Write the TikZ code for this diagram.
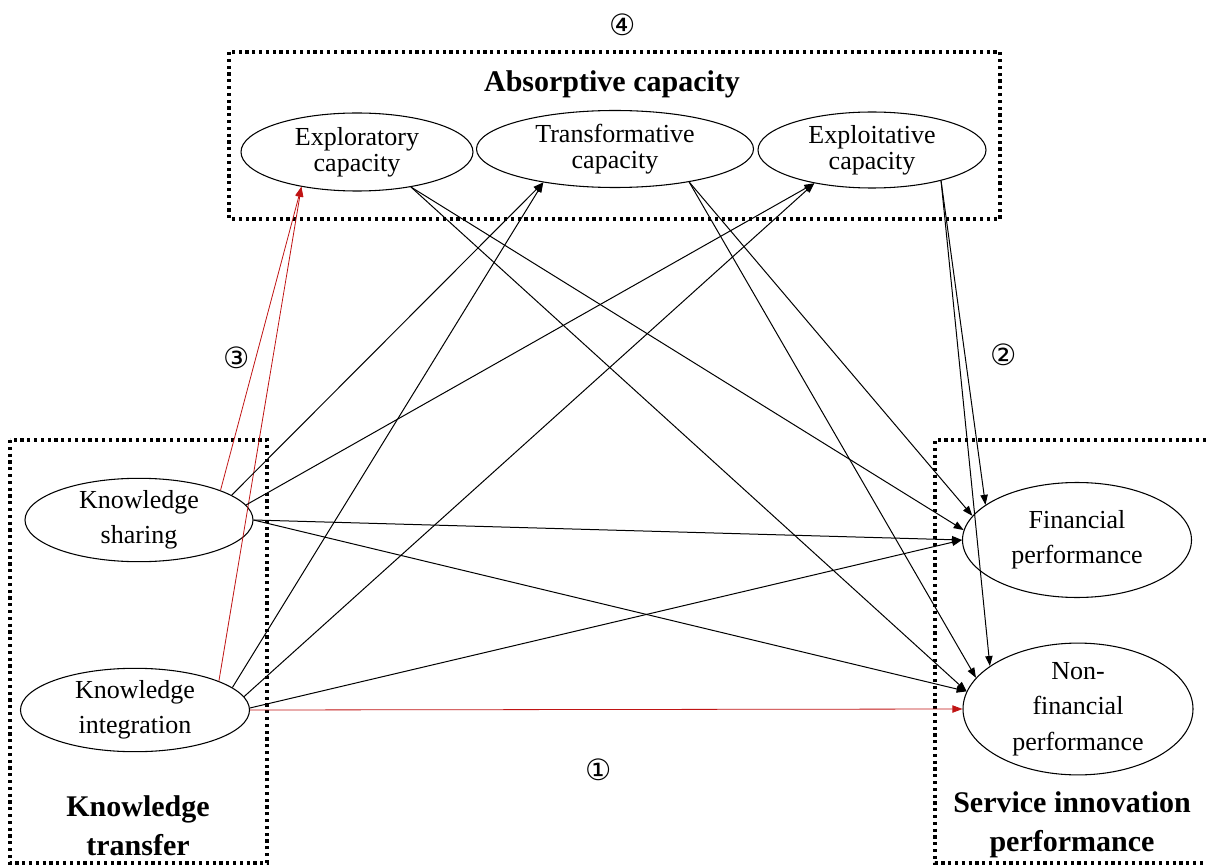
\documentclass[tikz,border=0pt]{standalone}
\usepackage{fontspec}
\setmainfont{Liberation Serif}
\newfontfamily\circfont{DejaVu Sans}
\usetikzlibrary{arrows.meta,shapes.geometric}
\definecolor{myred}{RGB}{192,20,20}
\begin{document}
\begin{tikzpicture}[x=0.75pt,y=-0.75pt,
  ell/.style={draw,ellipse,inner sep=0pt,line width=0.8pt,align=center},
  topell/.style={ell,font=\fontsize{19.5}{19.5}\selectfont},
  lowell/.style={ell,font=\fontsize{19.5}{26.5}\selectfont},
  title/.style={align=center,inner sep=0pt,font=\bfseries\fontsize{22.5}{29}\selectfont},
  circnum/.style={inner sep=0pt,font=\circfont\fontsize{22}{22}\selectfont},
  grp/.style={line width=2.4pt,dash pattern=on 2.4pt off 2.7pt},
  arr/.style={-{Triangle[length=7.5pt,width=5.5pt]},line width=0.75pt},
  redarr/.style={arr,draw=myred,line width=0.6pt}]
\useasboundingbox (0,0) rectangle (1206,866);

% group boxes
\draw[grp] (229,52) rectangle (1000,219);
\draw[grp] (10,440) rectangle (267,863);
\draw[grp] (1206,440) -- (935,440) -- (935,863) -- (1206,863);

% titles
\node[title,anchor=base] (tabs) at (612,92) {Absorptive capacity};
\node[title] (tkt) at (138,826) {Knowledge\\transfer};
\node[title] (tsip) at (1072,825) {Service innovation\\performance};

% circled numbers
\node[circnum] (n4) at (623,25) {④};
\node[circnum] (n3) at (237,358) {③};
\node[circnum] (n2) at (1004,355) {②};
\node[circnum] (n1) at (599,770) {①};

% ellipses
\node[topell,minimum width=174pt,minimum height=58.5pt] (expr) at (357,152) {Exploratory\\capacity};
\node[topell,minimum width=207.75pt,minimum height=57.75pt] (trans) at (615,149) {Transformative\\capacity};
\node[topell,minimum width=171pt,minimum height=57pt] (expl) at (872,150) {Exploitative\\capacity};
\node[lowell,minimum width=171pt,minimum height=57pt] (ks) at (139,520) {Knowledge\\sharing};
\node[lowell,minimum width=171.75pt,minimum height=57pt] (ki) at (135,710) {Knowledge\\integration};
\node[lowell,minimum width=171.75pt,minimum height=86.25pt] (fin) at (1077,540) {Financial\\performance};
\node[lowell,minimum width=172.5pt,minimum height=88.5pt] (nfin) at (1078,709) {Non-\\financial\\performance};

% connectors
\draw[redarr] (ks.20) -- (expr.212);
\draw[redarr] (ki.19) -- (expr.212);
\draw[arr] (ks.15) -- (trans.205);
\draw[arr] (ks.8) -- (expl.210);
\draw[arr] (ks.east) -- (fin.west);
\draw[arr] (ks.east) -- (nfin.171);
\draw[arr] (ki.13) -- (trans.205);
\draw[arr] (ki.7) -- (expl.210);
\draw[arr] (ki.1) -- (fin.west);
\draw[redarr] (ki.east) -- (nfin.west);
\draw[arr] (expr.-33) -- (fin.175);
\draw[arr] (expr.-33) -- (nfin.171);
\draw[arr] (trans.-24) -- (fin.167);
\draw[arr] (trans.-24) -- (nfin.163);
\draw[arr] (expl.-24) -- (fin.159);
\draw[arr] (expl.-24) -- (nfin.154);
\end{tikzpicture}
\end{document}
